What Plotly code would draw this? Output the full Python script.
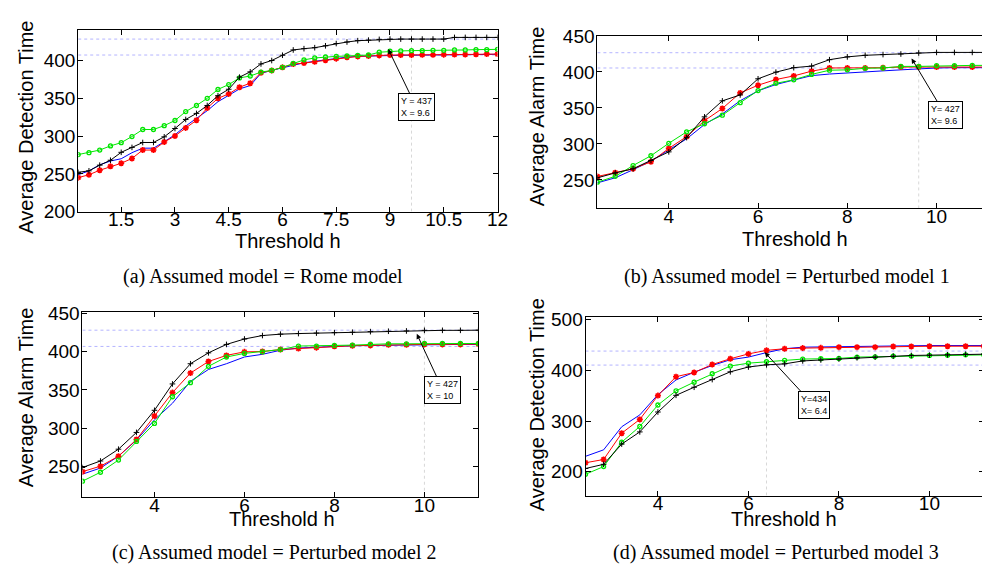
import plotly.graph_objects as go

W, H = 990, 572

# ---------------- data ----------------
# (a) Assumed model = Rome model
x_a = [0.3, 0.6, 0.9, 1.2, 1.5, 1.8, 2.1, 2.4, 2.7, 3.0, 3.3, 3.6, 3.9, 4.2, 4.5, 4.8, 5.1, 5.4, 5.7, 6.0,
       6.3, 6.6, 6.9, 7.2, 7.5, 7.8, 8.1, 8.4, 8.7, 9.0, 9.3, 9.6, 9.9, 10.2, 10.5, 10.8, 11.1, 11.4, 11.7, 12.0]
black_a = [252, 254, 261.5, 268, 278.5, 285, 291.5, 291.5, 299, 310, 322, 330, 340.5, 353.5, 362, 378, 385, 395.5, 400, 407,
           414, 415.7, 417, 419.5, 422.5, 424.5, 426.3, 427, 428, 428.4, 428.4, 428.4, 428.4, 428.4, 428.4, 430.6, 430.6, 430.6, 430.6, 430.6]
green_a = [275.5, 278, 281.5, 287, 291.3, 299.4, 308.7, 308.7, 313.8, 320.6, 332.5, 340.5, 350, 361.8, 368.2, 377, 379.5, 384.7, 386.8, 391,
           396.2, 400.9, 403.4, 404.7, 405.5, 406, 406.8, 407.3, 411, 412.3, 412.7, 413.1, 413.1, 413.5, 413.5, 414, 414, 414.4, 414.4, 414.8]
red_a = [245, 248.8, 254.8, 259.9, 264, 270.4, 281.5, 281.5, 292.1, 300.2, 310.8, 321, 337.2, 350, 355.8, 364.7, 370, 383.8, 386.8, 391,
         395.3, 396.6, 398.3, 400.4, 402.5, 404.3, 405.5, 406, 406.8, 407.3, 407.3, 407.3, 407.5, 407.5, 407.8, 408, 408, 408.2, 408.5, 408.5]
blue_a = [248.8, 253.9, 261.9, 267, 270, 278, 284, 284, 292.5, 301.8, 313.3, 323.4, 333.6, 345.5, 354, 362.4, 366.9, 383, 387, 390.5,
          394.5, 397, 399, 401, 403, 404.5, 405.5, 406, 406.5, 407, 407, 407, 407.2, 407.2, 407.5, 407.7, 407.7, 408, 408.2, 408.2]

# shared threshold grid for (b), (c), (d)
x_bcd = [2.4, 2.8, 3.2, 3.6, 4.0, 4.4, 4.8, 5.2, 5.6, 6.0, 6.4, 6.8, 7.2, 7.6, 8.0, 8.4, 8.8, 9.2, 9.6, 10.0, 10.4, 10.8, 11.2]

# (b) Perturbed model 1
black_b = [253, 259.8, 265.5, 277, 289, 308.8, 337.6, 359.8, 368, 390.4, 399.6, 405.8, 408, 416.9, 420.8, 423, 424, 424.8, 426.2, 427, 427, 427, 427]
red_b = [254.9, 260.2, 265.5, 275.2, 293.8, 310.2, 332.3, 349.2, 370.8, 381.5, 389.4, 394.4, 401, 405.4, 405.4, 405.4, 405.8, 406.7, 406.7, 406.7, 406.7, 406.7, 406.7]
green_b = [247, 255, 270, 283.6, 300.9, 316.8, 328, 339.9, 357.2, 374, 384.1, 389, 396.5, 402.3, 402.8, 405, 405.4, 407.6, 407.6, 408.5, 408.5, 409, 409]
blue_b = [246, 253, 264.2, 276.2, 291.6, 307.1, 327, 341.6, 360, 373.7, 382.5, 389, 394.8, 397, 398.8, 400, 401.4, 402.8, 404.5, 405.4, 405.8, 405.8, 405.8]

# (c) Perturbed model 2
black_c = [248.7, 257.2, 272.6, 294.5, 323.4, 357.8, 384.2, 398.4, 409.4, 416.5, 421, 422.8, 423.6, 424.2, 424.8, 425.3, 426.1, 426.6, 427, 427.8, 427.8, 427.8, 428]
red_c = [243.3, 250.4, 263.4, 285.2, 315.9, 346.5, 372, 387.1, 395.1, 399.7, 400.1, 402.7, 404, 405.2, 406.9, 407.7, 408.1, 409, 409, 409.4, 409.4, 409.4, 409.8]
green_c = [230.8, 242.5, 258.4, 282.7, 306.2, 341.1, 359.4, 380.8, 393, 397.7, 399.8, 402.7, 407.3, 407.3, 408.1, 408.5, 409.8, 410.2, 410.2, 410.6, 410.6, 410.6, 410.6]
blue_c = [240, 248, 263.4, 284.5, 310.9, 332.6, 361.2, 376.7, 384.2, 393, 396.5, 401.8, 404.7, 405.9, 406.9, 407.7, 408.1, 408.5, 408.5, 408.9, 409.4, 409.4, 409.4]

# (d) Perturbed model 3
red_d = [217.7, 224.1, 276.1, 303.3, 350.3, 387.7, 395.9, 411.7, 423.1, 432.7, 439.7, 442.9, 444.1, 444.7, 446, 446, 446, 447.3, 447.3, 447.9, 447.9, 447.9, 447.9]
blue_d = [230.4, 243.2, 288.8, 312.2, 352.2, 381.3, 396.5, 409.8, 421.2, 426.4, 435.3, 442.9, 446, 446.6, 447.3, 447.9, 448.5, 448.5, 448.9, 449.2, 449.2, 449.2, 449.2]
green_d = [194.9, 210.1, 258.4, 289.4, 331.8, 359.8, 376.9, 393.5, 408.7, 414.4, 417.5, 420, 422.5, 423.1, 423.8, 426.4, 427, 428.3, 428.3, 429.6, 430.2, 430.8, 430.8]
black_d = [206.3, 214.6, 254.6, 278.6, 317.9, 350.9, 366.8, 382, 397.3, 406.8, 411.1, 413, 418.8, 420.7, 422.5, 425, 426.4, 428.3, 429.6, 430.2, 430.8, 432.1, 432.1]

# reference (data-cursor) lines and labels
hlines_a = [428.4, 407.3]
hlines_b = [426.6, 405.4]
hlines_c = [428.0, 406.8]
hlines_d = [438.3, 410.6]
vline_a, vline_b, vline_c, vline_d = 9.6, 9.6, 10.0, 6.4
cursor_text = ["Y = 437<br>X = 9.6", "Y= 427<br>X= 9.6", "Y = 427<br>X = 10", "Y=434<br>X= 6.4"]

# tick labels
xticks_a = [1.5, 3, 4.5, 6, 7.5, 9, 10.5, 12]
xticks_bcd = [4, 6, 8, 10]
yticks_a = [200, 250, 300, 350, 400]
yticks_bc = [250, 300, 350, 400, 450]
yticks_d = [200, 300, 400, 500]

captions = ["(a) Assumed model = Rome model", "(b) Assumed model = Perturbed model 1",
            "(c) Assumed model = Perturbed model 2", "(d) Assumed model = Perturbed model 3"]
ytitles = ["Average Detection Time", "Average Alarm Time", "Average Alarm Time", "Average Detection Time"]

# ---------------- layout geometry (pixels) ----------------
panels = [
    # (x0, x1, ytop, ybottom)
    (71, 495, 12, 201),
    (596, 990, 18.3, 197.7),
    (75.3, 475.7, 305, 497),
    (584, 986.7, 310.7, 495.7),
]
xranges = [[0.3, 12.0], [2.4, 11.13], [2.4, 11.2], [2.4, 11.2]]
yranges = [[200, 441], [210.5, 450.3], [210.5, 452], [153, 505]]

TICK_FONT = dict(family="Liberation Sans, Arial, sans-serif", size=19, color="black")
TITLE_FONT = dict(family="Liberation Sans, Arial, sans-serif", size=20, color="black")
CAP_FONT = dict(family="Liberation Serif, Times New Roman, serif", size=20, color="black")

fig = go.Figure()

datasets = [
    (x_a, [blue_a, red_a, green_a, black_a]),
    (x_bcd, [blue_b, red_b, green_b, black_b]),
    (x_bcd, [blue_c, red_c, green_c, black_c]),
    (x_bcd, [blue_d, red_d, green_d, black_d]),
]
styles = [
    dict(color="#0000ff", symbol=None),
    dict(color="#ff0000", symbol="asterisk-open", size=5, lw=1.6),
    dict(color="#00e600", symbol="circle-open", size=4, lw=1.3),
    dict(color="#000000", symbol="cross-thin-open", size=4, lw=1),
]

hl = [hlines_a, hlines_b, hlines_c, hlines_d]
vl = [vline_a, vline_b, vline_c, vline_d]
xt = [xticks_a, xticks_bcd, xticks_bcd, xticks_bcd]
yt = [yticks_a, yticks_bc, yticks_bc, yticks_d]

for i, (xs, series) in enumerate(datasets):
    k = "" if i == 0 else str(i + 1)
    xa, ya = "x" + k, "y" + k
    x0, x1, yt0, yb0 = panels[i]
    # reference lines
    for h in hl[i]:
        fig.add_trace(go.Scatter(x=xranges[i], y=[h, h], mode="lines", xaxis=xa, yaxis=ya,
                                 line=dict(color="#b4b4ff", width=1, dash="dot"), showlegend=False, hoverinfo="skip"))
    fig.add_trace(go.Scatter(x=[vl[i], vl[i]], y=yranges[i], mode="lines", xaxis=xa, yaxis=ya,
                             line=dict(color="#d8d8d8", width=1, dash="dot"), showlegend=False, hoverinfo="skip"))
    for s, st in zip(series, styles):
        if st["symbol"] is None:
            fig.add_trace(go.Scatter(x=xs, y=s, mode="lines", xaxis=xa, yaxis=ya,
                                     line=dict(color=st["color"], width=1), showlegend=False))
        else:
            fig.add_trace(go.Scatter(x=xs, y=s, mode="lines+markers", xaxis=xa, yaxis=ya,
                                     line=dict(color=st["color"], width=1),
                                     marker=dict(symbol=st["symbol"], size=st["size"], color=st["color"],
                                                 line=dict(color=st["color"], width=st["lw"])),
                                     showlegend=False))
    axis_common = dict(showline=True, linecolor="black", linewidth=1, mirror="ticks", ticks="inside",
                       ticklen=5, tickcolor="black", showgrid=False, zeroline=False, tickfont=TICK_FONT)
    fig.update_layout(**{
        "xaxis" + k: dict(domain=[x0 / W, x1 / W], range=xranges[i], anchor=ya, tickmode="array",
                          tickvals=xt[i], ticktext=[str(v) for v in xt[i]], ticklabelstandoff=-9, **axis_common),
        "yaxis" + k: dict(domain=[1 - yb0 / H, 1 - yt0 / H], range=yranges[i], anchor=xa, tickmode="array",
                          tickvals=yt[i], ticktext=[str(v) for v in yt[i]], ticklabelstandoff=-2, **axis_common),
    })

annotations = []
# axis titles and captions (pixel positions)
xtitle_pos = [(283, 231), (796, 229), (277, 520), (785, 520)]
ytitle_pos = [(18, 113), (535, 102), (18, 394), (535, 402)]
cap_pos = [(258, 268), (788, 268), (269, 555), (777, 555)]
for i in range(4):
    px, py = xtitle_pos[i]
    annotations.append(dict(text="Threshold h", x=px / W, y=1 - py / H, xref="paper", yref="paper",
                            showarrow=False, font=TITLE_FONT, xanchor="center", yanchor="middle"))
    px, py = ytitle_pos[i]
    annotations.append(dict(text=ytitles[i], x=px / W, y=1 - py / H, xref="paper", yref="paper",
                            showarrow=False, textangle=-90, font=TITLE_FONT,
                            xanchor="center", yanchor="middle"))
    px, py = cap_pos[i]
    annotations.append(dict(text=captions[i], x=px / W, y=1 - py / H, xref="paper", yref="paper",
                            showarrow=False, font=CAP_FONT, xanchor="center", yanchor="middle"))

# data-cursor boxes: arrow head position (data units) and box offset (px)
cursor_pts = [(8.95, 415.3, 28, 58), (9.44, 418.7, 34, 57), (9.83, 423.2, 26, 56), (6.36, 435.9, 49, 53)]
for i, (cx, cy, ax, ay) in enumerate(cursor_pts):
    k = "" if i == 0 else str(i + 1)
    annotations.append(dict(text=cursor_text[i], x=cx, y=cy, xref="x" + k, yref="y" + k,
                            ax=ax, ay=ay, showarrow=True, arrowhead=2, arrowsize=1, arrowwidth=1,
                            arrowcolor="black", font=dict(family="Liberation Sans, Arial", size=9, color="black"),
                            align="left", bgcolor="white", bordercolor="black", borderwidth=1, borderpad=2))

fig.update_layout(width=W, height=H, margin=dict(l=0, r=0, t=0, b=0), paper_bgcolor="white",
                  plot_bgcolor="white", annotations=annotations, showlegend=False)

fig.write_html("out.html")
